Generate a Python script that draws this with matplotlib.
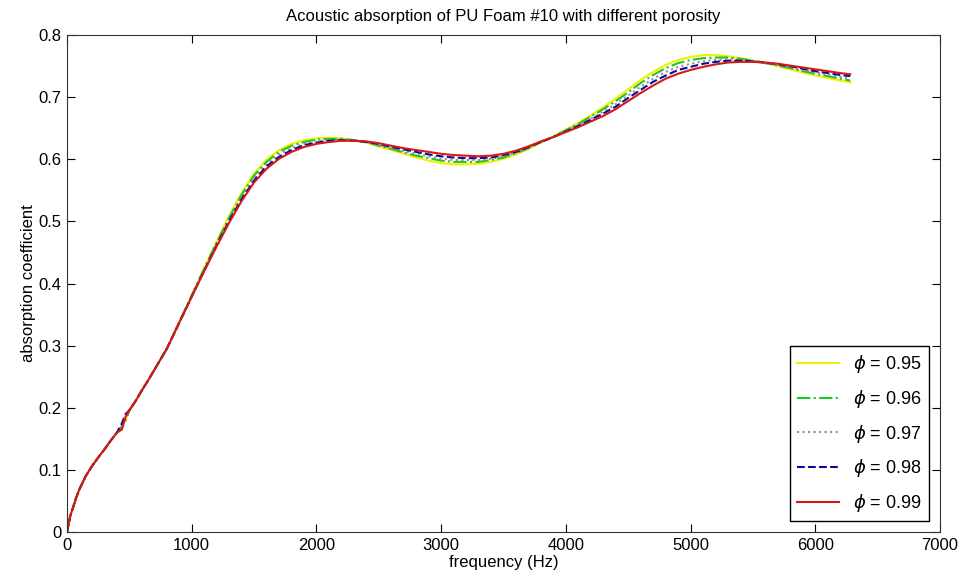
"""
acoustic absorption of PU foam #10 for several porosity values.
"""
from typing import List

import matplotlib.pyplot as plt

plt.rcParams["font.family"] = ["Liberation Sans", "DejaVu Sans"]

# frequency grid (Hz): fine steps at low frequency, then 100 Hz steps
freq: List[float] = [
    0, 25, 75, 100, 150, 200, 250, 300, 350, 400, 440, 470, 500, 550, 600, 650, 700,
] + list(range(800, 6201, 100)) + [6280]

# absorption coefficient, low frequency part (0 - 700 Hz)
low_095: List[float] = [0, .025, .056, .069, .090, .106, .120, .133, .147, .160, .170, .180, .196, .211, .228, .244, .261]
low_096: List[float] = [0, .025, .056, .069, .090, .106, .120, .133, .147, .160, .170, .180, .196, .211, .228, .244, .261]
low_097: List[float] = [0, .025, .056, .069, .090, .106, .120, .133, .147, .160, .170, .180, .196, .211, .228, .244, .261]
low_098: List[float] = [0, .025, .056, .069, .090, .106, .120, .133, .147, .160, .175, .190, .196, .211, .228, .244, .261]
low_099: List[float] = [0, .025, .056, .069, .090, .106, .120, .133, .147, .160, .165, .186, .196, .211, .228, .244, .261]

# absorption coefficient, 800 - 6280 Hz
high_095: List[float] = [
    .295, .338, .381, .425, .468, .509, .546, .577, .600, .615, .625, .631, .634, .635,
    .634, .631, .627, .621, .615, .609, .603, .598, .594, .592, .592, .593, .596, .601,
    .608, .617, .627, .637, .648, .659, .671, .684, .698, .713, .728, .741, .752, .760,
    .765, .768, .768, .766, .763, .759, .755, .750, .745, .740, .735, .731, .727, .724,
]
high_096: List[float] = [
    .295, .338, .381, .424, .466, .506, .543, .574, .596, .612, .622, .628, .632, .633,
    .633, .631, .628, .622, .617, .611, .606, .602, .598, .596, .596, .596, .599, .603,
    .610, .618, .628, .637, .647, .657, .669, .681, .694, .708, .723, .736, .747, .755,
    .760, .763, .764, .764, .762, .759, .755, .751, .747, .742, .738, .734, .730, .727,
]
high_097: List[float] = [
    .295, .337, .380, .422, .464, .503, .539, .570, .592, .608, .618, .625, .629, .631,
    .632, .630, .628, .623, .618, .613, .609, .605, .601, .599, .599, .599, .601, .605,
    .611, .619, .628, .636, .646, .655, .666, .677, .689, .703, .717, .730, .741, .749,
    .754, .758, .760, .761, .760, .758, .755, .752, .748, .744, .740, .736, .733, .730,
]
high_098: List[float] = [
    .295, .337, .379, .421, .462, .501, .536, .566, .589, .604, .615, .623, .627, .630,
    .631, .630, .628, .625, .620, .616, .612, .608, .605, .603, .602, .602, .603, .607,
    .612, .620, .628, .636, .645, .654, .664, .674, .685, .699, .712, .725, .735, .744,
    .749, .754, .757, .759, .759, .758, .756, .753, .750, .746, .742, .739, .736, .734,
]
high_099: List[float] = [
    .295, .337, .379, .420, .460, .498, .533, .563, .585, .601, .612, .620, .625, .628,
    .630, .630, .629, .626, .622, .618, .615, .612, .609, .607, .606, .605, .606, .609,
    .614, .621, .629, .636, .644, .652, .661, .670, .681, .694, .707, .719, .730, .738,
    .744, .749, .753, .756, .757, .757, .756, .754, .751, .748, .745, .742, .739, .737,
]

labels: List[str] = [
    r"$\phi$ = 0.95",
    r"$\phi$ = 0.96",
    r"$\phi$ = 0.97",
    r"$\phi$ = 0.98",
    r"$\phi$ = 0.99",
]
colors: List[str] = ["#f0f000", "#22c422", "#9a8a9a", "#0a0a9a", "#d81818"]
styles: List[str] = ["-", "-.", ":", "--", "-"]

series = [
    low_095 + high_095,
    low_096 + high_096,
    low_097 + high_097,
    low_098 + high_098,
    low_099 + high_099,
]

fig = plt.figure(figsize=(9.6, 5.77), dpi=100)
ax = fig.add_axes([0.0698, 0.078, 0.9094, 0.861])

for y, c, ls, lab in zip(series, colors, styles, labels):
    ax.plot(freq, y, color=c, ls=ls, lw=1.5, label=lab)

ax.set_xlim(0, 7000)
ax.set_ylim(0, 0.8)
ax.set_xticks(range(0, 7001, 1000))
ax.set_yticks([i / 10 for i in range(0, 9)])
ax.set_yticklabels(["0", "0.1", "0.2", "0.3", "0.4", "0.5", "0.6", "0.7", "0.8"])
ax.tick_params(direction="in", length=6, top=True, right=True, labelsize=12, pad=4)
for s in ax.spines.values():
    s.set_color("#333333")

ax.set_title("Acoustic absorption of PU Foam #10 with different porosity", fontsize=12, pad=10)
ax.set_xlabel("frequency (Hz)", fontsize=12, labelpad=2)
ax.set_ylabel("absorption coefficient", fontsize=12, labelpad=2)

leg = ax.legend(
    loc="lower right",
    fontsize=13,
    handlelength=2.3,
    labelspacing=0.7,
    fancybox=False,
    framealpha=1,
    borderaxespad=0.6,
)
leg.get_frame().set_edgecolor("black")

fig.savefig("out.png")
